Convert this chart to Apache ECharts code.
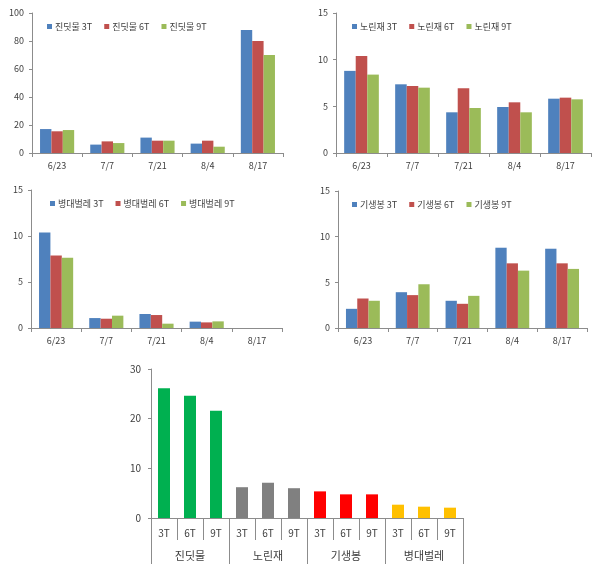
<!DOCTYPE html>
<html><head><meta charset="utf-8">
<script src="https://cdn.jsdelivr.net/npm/echarts@6/dist/echarts.min.js"></script>
<style>html,body{margin:0;padding:0;background:#fff}#c{width:601px;height:576px}</style>
</head><body><div id="c"></div>
<script>
const dates = ['6/23','7/7','7/21','8/4','8/17'];
const treatments = ['3T','6T','9T'];
// 진딧물
const aphid3T = [17.1, 6.0, 11.0, 6.7, 87.9];
const aphid6T = [15.5, 8.3, 8.8, 8.8, 80.0];
const aphid9T = [16.4, 7.1, 8.8, 4.5, 70.0];
// 노린재
const bug3T = [8.8, 7.36, 4.36, 4.93, 5.82];
const bug6T = [10.4, 7.18, 6.93, 5.43, 5.93];
const bug9T = [8.4, 7.0, 4.82, 4.36, 5.75];
// 병대벌레
const beetle3T = [10.37, 1.08, 1.52, 0.69, 0];
const beetle6T = [7.88, 1.01, 1.41, 0.61, 0];
const beetle9T = [7.63, 1.34, 0.47, 0.72, 0];
// 기생봉
const wasp3T = [2.1, 3.92, 2.98, 8.79, 8.68];
const wasp6T = [3.23, 3.6, 2.65, 7.08, 7.08];
const wasp9T = [2.98, 4.79, 3.52, 6.28, 6.47];
// summary
const groups = ['진딧물','노린재','기생봉','병대벌레'];
const summaryLabels = ['3T','6T','9T','3T','6T','9T','3T','6T','9T','3T','6T','9T'];
const summaryValues = [26.1, 24.6, 21.6, 6.2, 7.1, 6.0, 5.36, 4.76, 4.76, 2.68, 2.28, 2.08];

const FONT = '"Noto Sans CJK KR", "Noto Sans", sans-serif';
const C3 = ['#4F81BD','#C0504D','#9BBB59'];
const groupColors = ['#00B050','#808080','#FF0000','#FFC000'];
const axisColor = '#8c8c8c';
const textColor = '#404040';

const panels = [
  {name:'진딧물', data:[aphid3T,aphid6T,aphid9T], max:100, interval:20,
   grid:{left:32, top:13, width:251, height:140}, legend:{left:42, top:17}},
  {name:'노린재', data:[bug3T,bug6T,bug9T], max:15, interval:5,
   grid:{left:336, top:13, width:255, height:140}, legend:{left:347, top:17}},
  {name:'병대벌레', data:[beetle3T,beetle6T,beetle9T], max:15, interval:5,
   grid:{left:31, top:190, width:251, height:138}, legend:{left:45, top:194}},
  {name:'기생봉', data:[wasp3T,wasp6T,wasp9T], max:15, interval:5,
   grid:{left:338, top:191, width:249, height:137}, legend:{left:347, top:195}}
];

const grids=[], xAxes=[], yAxes=[], series=[], legends=[];
panels.forEach((p,i)=>{
  grids.push(Object.assign({containLabel:false}, p.grid));
  xAxes.push({type:'category', gridIndex:i, data:dates,
    axisLine:{lineStyle:{color:axisColor}},
    axisTick:{show:true, length:4, lineStyle:{color:axisColor}},
    axisLabel:{color:textColor, fontSize:9, fontFamily:FONT, margin:8}});
  yAxes.push({type:'value', gridIndex:i, min:0, max:p.max, interval:p.interval,
    splitLine:{show:false},
    axisLine:{show:true, lineStyle:{color:axisColor}},
    axisTick:{show:true, length:3, lineStyle:{color:axisColor}},
    axisLabel:{color:textColor, fontSize:9, fontFamily:FONT, margin:8}});
  const names = treatments.map(t=>p.name+' '+t);
  legends.push({left:p.legend.left, top:p.legend.top, data:names, itemWidth:5, itemHeight:5,
    itemGap:12, icon:'rect', textStyle:{fontSize:9, color:textColor, fontFamily:FONT, padding:[0,0,0,-2]}});
  p.data.forEach((arr,k)=>{
    series.push({type:'bar', name:names[k], xAxisIndex:i, yAxisIndex:i, data:arr,
      barGap:'0%', barCategoryGap:'32%', itemStyle:{color:C3[k]}, silent:true});
  });
});

// summary chart
grids.push({left:151, top:369, width:312, height:149});
xAxes.push({type:'category', gridIndex:4, data:summaryLabels,
  axisLine:{lineStyle:{color:axisColor}},
  axisTick:{show:true, length:22, interval:0, lineStyle:{color:axisColor}},
  axisLabel:{color:textColor, fontSize:10, fontFamily:FONT, margin:10, interval:0}});
xAxes.push({type:'category', gridIndex:4, data:groups, position:'bottom', offset:22,
  axisLine:{show:false},
  axisTick:{show:true, length:24, interval:0, lineStyle:{color:axisColor}},
  axisLabel:{color:textColor, fontSize:11, fontFamily:FONT, margin:10, interval:0}});
yAxes.push({type:'value', gridIndex:4, min:0, max:30, interval:10,
  splitLine:{show:false},
  axisLine:{show:true, lineStyle:{color:axisColor}},
  axisTick:{show:true, length:3, lineStyle:{color:axisColor}},
  axisLabel:{color:textColor, fontSize:10, fontFamily:FONT, margin:10}});
series.push({type:'bar', xAxisIndex:4, yAxisIndex:4, data:summaryValues, barWidth:12, silent:true,
  itemStyle:{color:(p)=>groupColors[Math.floor(p.dataIndex/3)]}});

const chart = echarts.init(document.getElementById('c'), null, {renderer:'canvas'});
chart.setOption({animation:false, backgroundColor:'#fff', grid:grids, xAxis:xAxes, yAxis:yAxes, legend:legends, series:series});
</script></body></html>
